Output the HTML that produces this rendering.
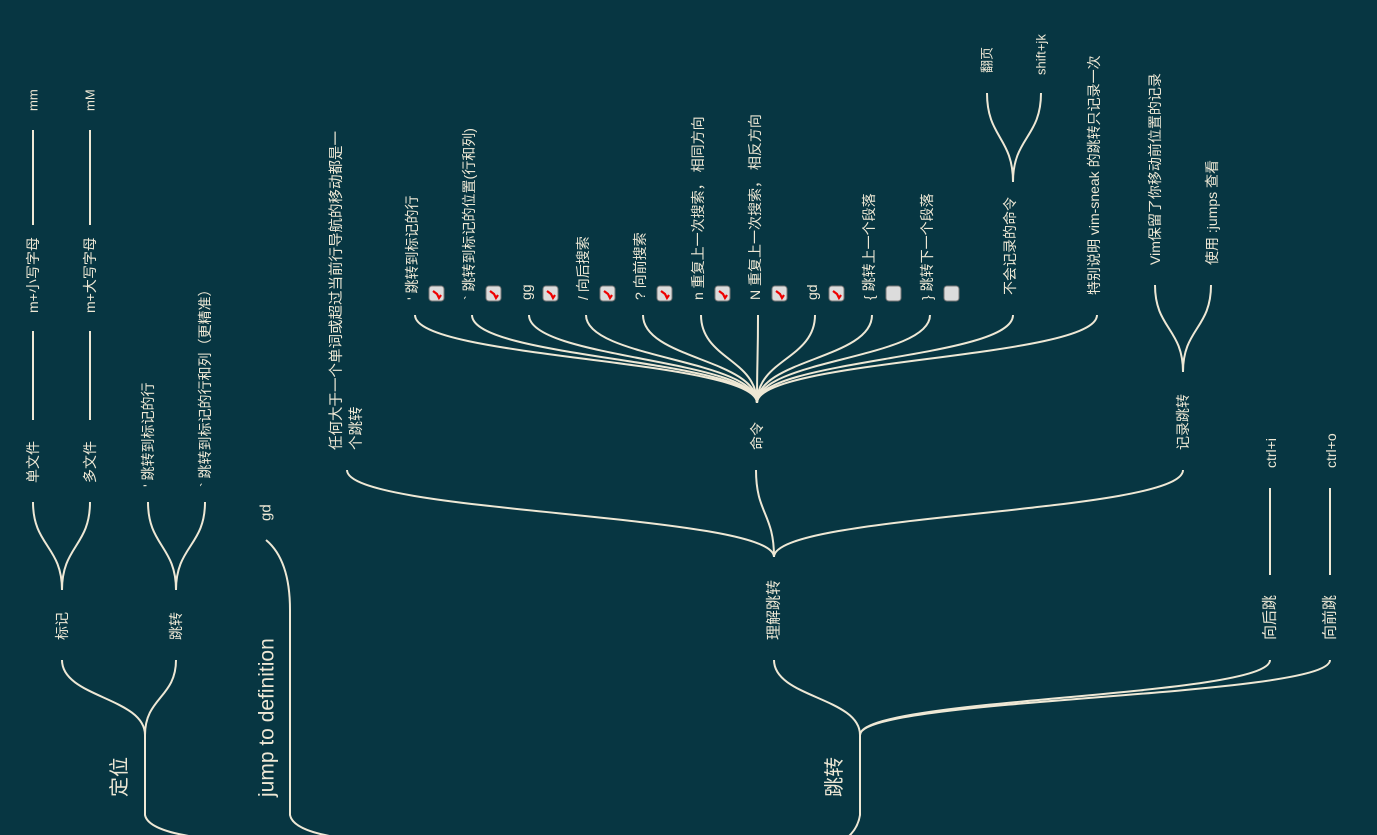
<!DOCTYPE html>
<html><head><meta charset="utf-8"><style>
html,body{margin:0;padding:0;background:#073642;}
svg{display:block;}
text{fill:#eee8d5;font-family:"Liberation Sans","WenQuanYi Zen Hei","Noto Sans CJK SC",sans-serif;font-size:14px;}
</style></head><body>
<svg id="map" width="1377" height="835" viewBox="0 0 1377 835" xmlns="http://www.w3.org/2000/svg">
<g id="edges" fill="none" stroke="#eee8d5" stroke-width="2"></g>
<g id="labels"></g>
</svg>
<script>
const NS='http://www.w3.org/2000/svg';
const edges=document.getElementById('edges');
const labels=document.getElementById('labels');
function curve(x1,y1,x2,y2,name){
  const p=document.createElementNS(NS,'path');
  const m=(y1+y2)/2;
  p.setAttribute('d',`M${x1},${y1} C${x1},${m} ${x2},${m} ${x2},${y2}`);
  
  
  edges.appendChild(p);
}
function raw(d,name){
  const p=document.createElementNS(NS,'path');
  p.setAttribute('d',d);
  
  
  edges.appendChild(p);
}
function label(x,y,t,size,name){
  const e=document.createElementNS(NS,'text');
  e.setAttribute('transform',`translate(${x},${y}) rotate(-90)`);
  e.setAttribute('dominant-baseline','central');
  if(size) e.setAttribute('style','font-size:'+size+'px');
  e.textContent=t;
  
  
  labels.appendChild(e);
}
function box(x,y,checked,name){
  const g=document.createElementNS(NS,'g');
  
  
  const r=document.createElementNS(NS,'rect');
  r.setAttribute('x',x);r.setAttribute('y',y);r.setAttribute('width',15);r.setAttribute('height',15);
  r.setAttribute('rx',3);r.setAttribute('fill','#dcdcdc');r.setAttribute('stroke','#777');r.setAttribute('stroke-width','1');
  g.appendChild(r);
  if(checked){
    const c=document.createElementNS(NS,'path');
    c.setAttribute('d',`M${x+4},${y+5} L${x+8},${y+8} L${x+10},${y+12} L${x+12},${y+9}`);
    c.setAttribute('fill','none');c.setAttribute('stroke','#e00');c.setAttribute('stroke-width','2.2');
    g.appendChild(c);
  }
  labels.appendChild(g);
}

// roots
raw('M145,735 L145,815 Q148,830 195,837','root-edge-dingwei');
raw('M290,610 Q290,560 266,540 M290,610 L290,815 Q293,830 335,837','root-edge-jump');
raw('M860,735 L860,815 Q858,828 848,837','root-edge-tiaozhuan');
label(120,797,'定位',20,'node-dingwei');
label(267,797,'jump to definition',21,'node-jump-to-definition');
label(835,797,'跳转',20,'node-tiaozhuan');
label(266,521,'gd',15,'node-gd-root');

// 定位 subtree
curve(145,735,62,660,'edge-biaoji');
curve(145,735,176,660,'edge-tiaozhuan-sub');
label(62,640,'标记',14,'node-biaoji');
label(176,640,'跳转',14,'node-tiaozhuan-sub');
curve(62,590,33,502,'edge-danwenjian');
curve(62,590,90,502,'edge-duowenjian');
label(33,483,'单文件',14,'node-danwenjian');
label(90,483,'多文件',14,'node-duowenjian');
raw('M33,420 L33,331 M33,225 L33,130 M90,420 L90,331 M90,225 L90,130','edge-mark-chains');
label(33,313,'m+小写字母',14,'node-lower');
label(90,313,'m+大写字母',14,'node-upper');
label(33,111,'mm',13,'node-mm');
label(90,111,'mM',13,'node-mM');
curve(176,590,148,502,'edge-jump-line');
curve(176,590,205,502,'edge-jump-col');
label(148,487,'\' 跳转到标记的行',14,'node-jump-line');
label(205,487,'` 跳转到标记的行和列（更精准）',14,'node-jump-col');

// 跳转 subtree
curve(860,735,774,660,'edge-lijie');
curve(860,735,1270,660,'edge-xianghou');
curve(860,735,1330,660,'edge-xiangqian');
label(774,640,'理解跳转',15,'node-lijie');
label(1270,640,'向后跳',15,'node-xianghou');
label(1330,640,'向前跳',15,'node-xiangqian');
raw('M1270,575 L1270,488 M1330,575 L1330,488','edge-ctrl');
label(1271,468,'ctrl+i',14,'node-ctrl-i');
label(1331,468,'ctrl+o',14,'node-ctrl-o');

curve(774,557,347,470,'edge-renhe');
curve(774,557,756,470,'edge-mingling');
curve(774,557,1183,470,'edge-jilu');
label(337,450,'任何大于一个单词或超过当前行导航的移动都是一',14.5,'node-renhe-1');
label(357,450,'个跳转',14.5,'node-renhe-2');
label(757,450,'命令',14,'node-mingling');
label(1183,450,'记录跳转',14,'node-jilu');

const cmdX=[415,472,529,586,643,701,758,815,872,930,1013,1097];
const cmdText=['\' 跳转到标记的行','` 跳转到标记的位置(行和列)','gg','/ 向后搜索','? 向前搜索','n 重复上一次搜索， 相同方向','N 重复上一次搜索， 相反方向','gd','{ 跳转上一个段落','} 跳转下一个段落','不会记录的命令','特别说明  vim-sneak 的跳转只记录一次'];
const cmdCheck=[1,1,1,1,1,1,1,1,0,0,-1,-1];
cmdX.forEach((x,i)=>{
  curve(757,403,x,315,'edge-cmd-'+i);
  const tx=x-3;
  label(tx,i>=10?295:300,cmdText[i],14,'node-cmd-'+i);
  if(cmdCheck[i]>=0) box(x+14,286,cmdCheck[i]===1,'checkbox-cmd-'+i);
});
curve(1013,182,987,93,'edge-fanye');
curve(1013,182,1041,93,'edge-shiftjk');
label(987,73,'翻页',13,'node-fanye');
label(1041,75,'shift+jk',13,'node-shiftjk');

curve(1183,372,1155,285,'edge-vim-record');
curve(1183,372,1211,285,'edge-jumps');
label(1155,265,'Vim保留了你移动前位置的记录',14,'node-vim-record');
label(1212,265,'使用 :jumps 查看',14,'node-jumps');
</script>
</body></html>
